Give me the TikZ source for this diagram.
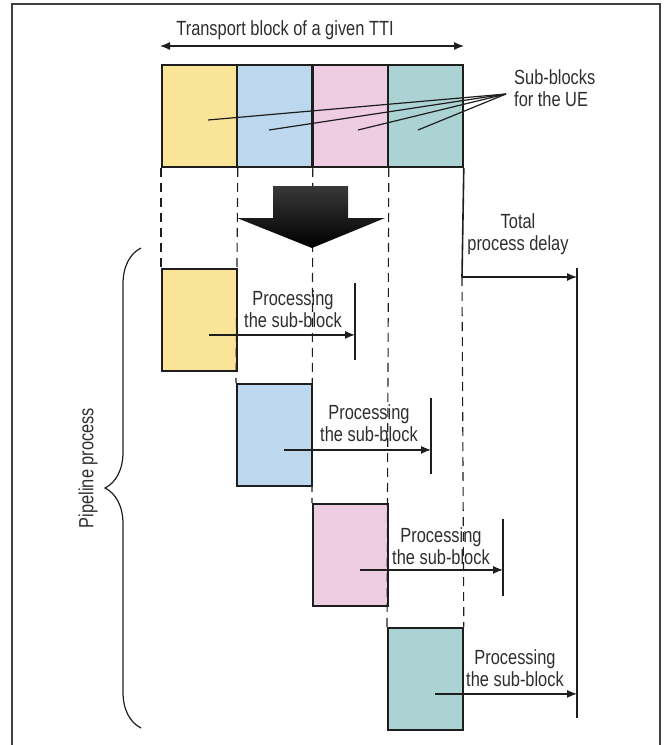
\documentclass[tikz,border=0pt]{standalone}
\usepackage{fontspec}
\setmainfont{Liberation Sans}[FakeStretch=0.8]
\usetikzlibrary{arrows.meta,calc,decorations.pathreplacing}
\definecolor{subA}{HTML}{FAE497}
\definecolor{subB}{HTML}{BDD8EE}
\definecolor{subC}{HTML}{EECDE3}
\definecolor{subD}{HTML}{ABD3D3}
\definecolor{ink}{HTML}{2E2E2E}
\definecolor{edge}{HTML}{1E1E1E}
\begin{document}
\begin{tikzpicture}[x=1pt,y=-1pt,font=\fontsize{20.5}{22.5}\selectfont,
  blk/.style={draw=edge,line width=1.8pt,minimum width=75pt,minimum height=102pt,inner sep=0pt,anchor=north west},
  lbl/.style={text=ink,align=center,inner sep=0pt},
  ptr/.style={draw=edge,line width=1.2pt},
  arr/.style={ptr,-{Latex[length=10pt,width=8pt]}},
  dsh/.style={draw=edge,line width=1.1pt,dash pattern=on 9pt off 6pt},
  bar/.style={draw=edge,line width=2pt}]
\useasboundingbox (0,0) rectangle (666,745);
% frame
\draw[line width=1.2pt,black!75] (12,745) -- (12,4) -- (660,4) -- (660,745);

% transport block of the TTI
\node[blk,fill=subA] (t1) at (161,64) {};
\node[blk,fill=subB] (t2) at (236,64) {};
\node[blk,fill=subC] (t3) at (312,64) {};
\node[blk,fill=subD] (t4) at (387,64) {};
\coordinate (tl) at (160,46);
\coordinate (tr) at (464,46);
\draw[ptr,{Latex[length=10pt,width=8pt]}-{Latex[length=10pt,width=8pt]}] (tl) -- (tr);
\node[lbl] (tti) at (285,30) {Transport block of a given TTI};

% pointers to the sub-blocks
\coordinate (ue) at (506,94);
\coordinate (p1) at (208,120);
\coordinate (p2) at (269,130);
\coordinate (p3) at (358,130);
\coordinate (p4) at (418,130);
\foreach \p in {p1,p2,p3,p4}
  \draw[ptr] (\p) -- (ue);
\node[lbl,align=left,anchor=west] (subs) at (514,88) {Sub-blocks\\for the UE};

% pipelined sub-blocks
\node[blk,fill=subA] (b1) at (161,268) {};
\node[blk,fill=subB] (b2) at (236,383) {};
\node[blk,fill=subC] (b3) at (312,503) {};
\node[blk,fill=subD] (b4) at (387,627) {};

% guide lines
\coordinate (d0) at (462,277);
\draw[dsh] (t1.south west) -- (b1.north west);
\draw[dsh] (t1.south east) -- (b2.north west);
\draw[dsh] (t2.south east) -- (b3.north west);
\draw[dsh] (t3.south east) -- (b4.north west);
\draw[bar,line width=1.6pt] (t4.south east) -- (d0);
\draw[dsh] (d0) -- (b4.north east);

% big down arrow
\shade[top color=black!78,middle color=black,bottom color=black]
  (273,186) -- (348,186) -- (348,218) -- (385,218) -- (312,248)
  -- (237,218) -- (273,218) -- cycle;

% processing of each sub-block
\coordinate (s1) at ($(b1.center)+(10,15)$);
\coordinate (s2) at ($(b2.center)+(10,15)$);
\coordinate (s3) at ($(b3.center)+(10,15)$);
\coordinate (s4) at ($(b4.center)+(10,15)$);
\coordinate (e1t) at (355,283); \coordinate (e1b) at (355,360);
\coordinate (e2t) at (431,398); \coordinate (e2b) at (431,474);
\coordinate (e3t) at (503,519); \coordinate (e3b) at (503,596);
\coordinate (tot) at (577,268); \coordinate (totb) at (577,718);
\draw[bar] (e1t) -- (e1b);
\draw[bar] (e2t) -- (e2b);
\draw[bar] (e3t) -- (e3b);
\draw[bar] (tot) -- (totb);
\draw[arr] (s1) -- (s1 -| e1t);
\draw[arr] (s2) -- (s2 -| e2t);
\draw[arr] (s3) -- (s3 -| e3t);
\draw[arr] (s4) -- (s4 -| tot);
\node[lbl] (proc1) at (293,309) {Processing\\the sub-block};
\node[lbl] (proc2) at (369,423) {Processing\\the sub-block};
\node[lbl] (proc3) at (441,546) {Processing\\the sub-block};
\node[lbl] (proc4) at (515,668) {Processing\\the sub-block};

% total delay
\draw[arr] (d0) -- (d0 -| tot);
\node[lbl] (delay) at (518,234) {Total\\process delay};

% pipeline brace
\draw[ptr,decorate,decoration={brace,amplitude=36pt}] (141,728) -- (141,248);
\node[lbl,rotate=90] (pipe) at (88,468) {Pipeline process};
\end{tikzpicture}
\end{document}
